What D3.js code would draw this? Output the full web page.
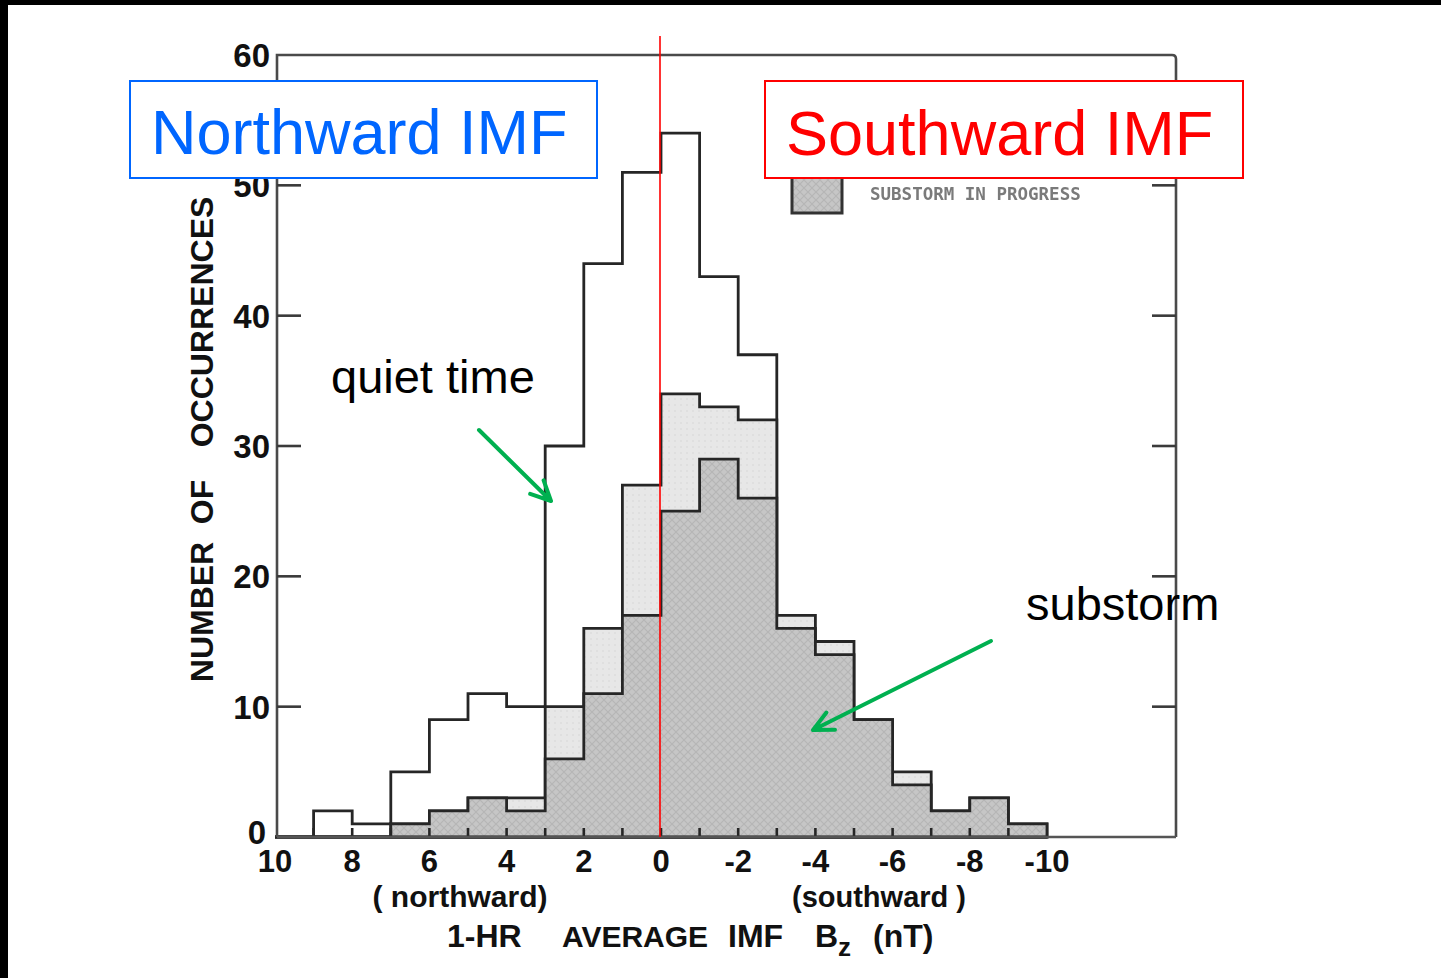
<!DOCTYPE html>
<html>
<head>
<meta charset="utf-8">
<script src="https://cdn.jsdelivr.net/npm/d3@7"></script>
<style>
  html, body { margin: 0; padding: 0; background: #fff; }
  svg { display: block; }
</style>
</head>
<body>
<div id="chart"></div>
<script>
// bins are 1 nT wide, listed from +10 (northward) down to -10 (southward)
const BIN_EDGES = d3.range(10, -11, -1);   // 10, 9, ..., -10
const quietTime  = [0, 2, 1, 5, 9, 11, 10, 30, 44, 51, 54, 43, 37, 0, 0, 0, 0, 0, 0, 0]; // beyond -3 hidden under shading
const substormLt = [0, 0, 0, 1, 2, 3, 3, 10, 16, 27, 34, 33, 32, 17, 15, 9, 5, 2, 3, 1];
const substormDk = [0, 0, 0, 1, 2, 3, 2, 6, 11, 17, 25, 29, 26, 16, 14, 9, 4, 2, 3, 1];

const X_TICKS = [10, 8, 6, 4, 2, 0, -2, -4, -6, -8, -10];
const Y_TICKS = [0, 10, 20, 30, 40, 50, 60];

const W = 1441, H = 978;
const svg = d3.select("#chart").append("svg").attr("width", W).attr("height", H);

// scanned-figure frame
const fLeft = 277, fRight = 1176, fTop = 55, fBottom = 837;
const x = d3.scaleLinear().domain([10, -10]).range([275, 1047]);
const y = d3.scaleLinear().domain([0, 60]).range([fBottom, fTop]);

const defs = svg.append("defs");
const pat = defs.append("pattern").attr("id", "dark").attr("patternUnits", "userSpaceOnUse")
  .attr("width", 8).attr("height", 8);
pat.append("rect").attr("width", 8).attr("height", 8).attr("fill", "#c6c6c6");
pat.append("path").attr("d", "M0,8 L8,0 M0,0 L8,8").attr("stroke", "#b6b6b6").attr("stroke-width", 1.2);
const pat2 = defs.append("pattern").attr("id", "light").attr("patternUnits", "userSpaceOnUse")
  .attr("width", 6).attr("height", 6);
pat2.append("rect").attr("width", 6).attr("height", 6).attr("fill", "#e7e7e7");
pat2.append("circle").attr("cx", 3).attr("cy", 3).attr("r", 0.8).attr("fill", "#d6d6d6");

function stepPoints(vals) {
  const pts = vals.map((v, i) => [BIN_EDGES[i], v]);
  pts.push([BIN_EDGES[vals.length], vals[vals.length - 1]]);
  return pts;
}
const area = d3.area().curve(d3.curveStepAfter)
  .x(d => x(d[0])).y0(y(0)).y1(d => y(d[1]));

const histStroke = "#262626";
[[quietTime, "#fff"], [substormLt, "url(#light)"], [substormDk, "url(#dark)"]].forEach(([vals, fill]) => {
  svg.append("path")
    .datum(stepPoints(vals))
    .attr("d", area)
    .attr("fill", fill)
    .attr("stroke", histStroke)
    .attr("stroke-width", 2.8)
    .attr("stroke-linejoin", "miter");
});

// inner x ticks at every integer
const g = svg.append("g").attr("stroke", "#262626").attr("stroke-width", 2.6);
g.selectAll("line").data(d3.range(9, -10, -1)).join("line")
  .attr("x1", d => x(d)).attr("x2", d => x(d))
  .attr("y1", fBottom).attr("y2", fBottom - 9);

// frame
svg.append("path")
  .attr("d", `M${fLeft},${fBottom} L${fLeft},${fTop} L${fRight - 4},${fTop} Q${fRight},${fTop} ${fRight},${fTop + 4} L${fRight},${fBottom}`)
  .attr("fill", "none").attr("stroke", "#4a4a4a").attr("stroke-width", 2.6);
svg.append("line").attr("x1", fLeft).attr("x2", fRight).attr("y1", fBottom).attr("y2", fBottom)
  .attr("stroke", "#555").attr("stroke-width", 2.6);

// y ticks on both sides
const g2 = svg.append("g").attr("stroke", "#3a3a3a").attr("stroke-width", 2.6);
g2.selectAll("line").data(Y_TICKS.slice(1, -1)).join("line")
  .attr("x1", fLeft).attr("x2", fLeft + 24).attr("y1", d => y(d)).attr("y2", d => y(d));
const g3 = svg.append("g").attr("stroke", "#3a3a3a").attr("stroke-width", 2.6);
g3.selectAll("line").data(Y_TICKS.slice(1, -1)).join("line")
  .attr("x1", fRight).attr("x2", fRight - 24).attr("y1", d => y(d)).attr("y2", d => y(d));

const scanFont = "'Liberation Sans', Arial, sans-serif";
svg.append("g").selectAll("text").data(Y_TICKS).join("text")
  .attr("x", d => d === 0 ? 266 : 270)
  .attr("y", d => Math.min(y(d) + 12, 844))
  .attr("text-anchor", "end")
  .attr("font-family", scanFont).attr("font-weight", "bold").attr("font-size", 33)
  .attr("fill", "#111")
  .text(d => d);

svg.append("g").selectAll("text").data(X_TICKS).join("text")
  .attr("x", d => x(d)).attr("y", 872)
  .attr("text-anchor", "middle")
  .attr("font-family", scanFont).attr("font-weight", "bold").attr("font-size", 31)
  .attr("fill", "#111")
  .text(d => d);

// axis titles
const ttl = (txt, px, py, size, anchor) => svg.append("text")
  .attr("x", px).attr("y", py).attr("text-anchor", anchor || "start")
  .attr("font-family", scanFont).attr("font-weight", "bold").attr("font-size", size)
  .attr("fill", "#111").attr("xml:space", "preserve").text(txt);

ttl("( northward)", 460, 907, 30, "middle");
ttl("(southward )", 879, 907, 29, "middle");
ttl("1-HR", 447, 947, 32);
ttl("AVERAGE", 562, 947, 30);
ttl("IMF", 728, 947, 32);
const bz = ttl("B", 815, 947, 32);
bz.append("tspan").attr("dy", 9).attr("font-size", 26).text("z");
ttl("(nT)", 873, 947, 32);

[["NUMBER", 612], ["OF", 502], ["OCCURRENCES", 322]].forEach(([w, cy]) => {
  svg.append("text")
    .attr("transform", `translate(213,${cy}) rotate(-90)`)
    .attr("text-anchor", "middle")
    .attr("font-family", scanFont).attr("font-weight", "bold").attr("font-size", 32)
    .attr("fill", "#111").text(w);
});

// legend of the original figure
svg.append("rect").attr("x", 792).attr("y", 165).attr("width", 50).attr("height", 48)
  .attr("fill", "url(#dark)").attr("stroke", "#333").attr("stroke-width", 3);
defs.append("filter").attr("id", "soft").append("feGaussianBlur").attr("stdDeviation", 0.6);
svg.append("text").attr("x", 870).attr("y", 200)
  .attr("font-family", "'DejaVu Sans Mono', monospace").attr("font-weight", "bold")
  .attr("font-size", 17.5).attr("fill", "#7a7a7a").attr("filter", "url(#soft)")
  .text("SUBSTORM IN PROGRESS");

// zero line
svg.append("line").attr("x1", x(0) - 1).attr("x2", x(0) - 1).attr("y1", 36).attr("y2", fBottom)
  .attr("stroke", "#ff0000").attr("stroke-width", 1.6);

// labelled boxes
const annFont = "'Liberation Sans', Arial, sans-serif";
svg.append("rect").attr("x", 130).attr("y", 81).attr("width", 467).attr("height", 97)
  .attr("fill", "#fff").attr("stroke", "#0066ff").attr("stroke-width", 2);
svg.append("text").attr("x", 151).attr("y", 154)
  .attr("font-family", annFont).attr("font-size", 63).attr("fill", "#0066ff")
  .text("Northward IMF");
svg.append("rect").attr("x", 765).attr("y", 81).attr("width", 478).attr("height", 97)
  .attr("fill", "#fff").attr("stroke", "#ff0000").attr("stroke-width", 2);
svg.append("text").attr("x", 786).attr("y", 155)
  .attr("font-family", annFont).attr("font-size", 63).attr("fill", "#ff0000")
  .text("Southward IMF");

svg.append("text").attr("x", 331).attr("y", 393)
  .attr("font-family", annFont).attr("font-size", 47).attr("fill", "#000").text("quiet time");
svg.append("text").attr("x", 1026).attr("y", 620)
  .attr("font-family", annFont).attr("font-size", 47).attr("fill", "#000").text("substorm");

// green arrows
function arrow(x1, y1, x2, y2) {
  const a = Math.atan2(y2 - y1, x2 - x1), L = 22, s = 0.45;
  const p1 = [x2 - L * Math.cos(a - s), y2 - L * Math.sin(a - s)];
  const p2 = [x2 - L * Math.cos(a + s), y2 - L * Math.sin(a + s)];
  svg.append("path")
    .attr("d", `M${x1},${y1} L${x2},${y2} M${p1} L${x2},${y2} L${p2}`)
    .attr("fill", "none").attr("stroke", "#00b050").attr("stroke-width", 4)
    .attr("stroke-linecap", "round").attr("stroke-linejoin", "round");
}
arrow(479, 430, 551, 501);
arrow(991, 641, 813, 730);

// black edges of the slide
svg.append("rect").attr("x", 0).attr("y", 0).attr("width", W).attr("height", 5).attr("fill", "#000");
svg.append("rect").attr("x", 0).attr("y", 0).attr("width", 8).attr("height", H).attr("fill", "#000");
</script>
</body>
</html>
